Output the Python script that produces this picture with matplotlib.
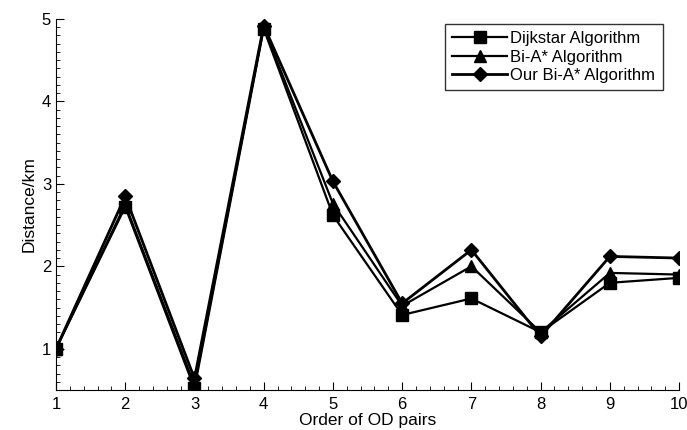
import numpy as np
import matplotlib
matplotlib.use('Agg')
import matplotlib.pyplot as plt
from matplotlib.ticker import MultipleLocator

plt.rcParams['font.family'] = ['Liberation Sans', 'DejaVu Sans']

# Datos
od_pairs = [1, 2, 3, 4, 5, 6, 7, 8, 9, 10]
dijkstra = [1.0, 2.72, 0.52, 4.88, 2.62, 1.41, 1.61, 1.20, 1.80, 1.86]
bi_astar = [1.0, 2.75, 0.56, 4.90, 2.76, 1.52, 2.00, 1.20, 1.92, 1.90]
our_bi_astar = [1.0, 2.85, 0.64, 4.92, 3.03, 1.55, 2.20, 1.15, 2.12, 2.10]

labels = ['Dijkstar Algorithm', 'Bi-A* Algorithm', 'Our Bi-A* Algorithm']

fig = plt.figure(figsize=(6.87, 4.30), dpi=100)
ax = fig.add_axes([0.0815, 0.093, 0.907, 0.863])

ax.plot(od_pairs, dijkstra, 'k-s', lw=1.6, ms=8, label=labels[0])
ax.plot(od_pairs, bi_astar, 'k-^', lw=1.6, ms=9, label=labels[1])
ax.plot(od_pairs, our_bi_astar, 'k-D', lw=2.0, ms=7.5, label=labels[2])

ax.set_xlim(1, 10)
ax.set_ylim(0.5, 5)
ax.set_xticks(od_pairs)
ax.set_yticks([1, 2, 3, 4, 5])
ax.xaxis.set_minor_locator(MultipleLocator(0.2))
ax.yaxis.set_minor_locator(MultipleLocator(0.1))
ax.tick_params(which='both', direction='in', labelsize=12, colors='black')
ax.tick_params(which='major', length=6)
ax.tick_params(which='minor', length=3)
ax.tick_params(axis='x', pad=5)

ax.spines['top'].set_visible(False)
ax.spines['right'].set_visible(False)

ax.set_xlabel('Order of OD pairs', fontsize=12.5, labelpad=1)
ax.set_ylabel('Distance/km', fontsize=12.5, labelpad=4)

leg = ax.legend(loc='upper right', bbox_to_anchor=(0.974, 0.987), fontsize=12,
                frameon=True, fancybox=False, edgecolor='black', handlelength=3.3,
                handletextpad=0.2, labelspacing=0.2, borderpad=0.45,
                borderaxespad=0)
leg.get_frame().set_linewidth(1.0)

plt.savefig('out.png', dpi=100)
